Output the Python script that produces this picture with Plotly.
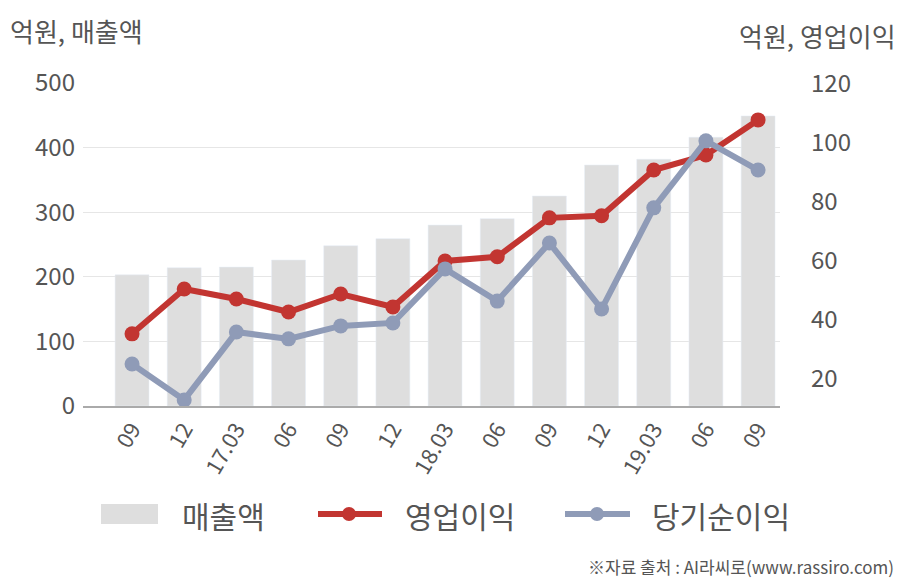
import plotly.graph_objects as go

categories = ["09", "12", "17.03", "06", "09", "12", "18.03", "06", "09", "12", "19.03", "06", "09"]
sales = [203, 214, 215, 226, 248, 259, 280, 290, 325, 373, 382, 416, 449]
op_profit = [35.3, 50.5, 47.1, 42.7, 48.8, 44.4, 60.0, 61.4, 74.6, 75.3, 90.8, 95.9, 107.8]
net_profit = [25.1, 12.9, 35.9, 33.6, 38.0, 39.0, 57.3, 46.4, 66.1, 43.7, 78.0, 100.7, 90.8]
left_ticks = [0, 100, 200, 300, 400, 500]
right_ticks = [20, 40, 60, 80, 100, 120]

BAR_C = "#DEDEDE"
RED = "#C23531"
BLUE = "#8F9BB7"
TXT = "#555555"
FONT = "Noto Sans CJK KR"

x = list(range(len(categories)))

fig = go.Figure()
fig.add_trace(go.Bar(x=x, y=sales, marker_color=BAR_C, width=0.65, name="매출액", yaxis="y"))
fig.add_trace(go.Scatter(x=x, y=op_profit, mode="lines+markers", name="영업이익", yaxis="y2",
                         line=dict(color=RED, width=6), marker=dict(size=15, color=RED)))
fig.add_trace(go.Scatter(x=x, y=net_profit, mode="lines+markers", name="당기순이익", yaxis="y2",
                         line=dict(color=BLUE, width=6), marker=dict(size=15, color=BLUE)))

L, R, T, B = 83, 128, 83, 174
W, H = 908, 580
pw, ph = W - L - R, H - T - B

def px(xp):
    return (xp - L) / pw

def py(yp):
    return (H - B - yp) / ph

shapes = [
    dict(type="rect", xref="paper", yref="paper", x0=px(101), x1=px(158), y0=py(524), y1=py(504),
         fillcolor=BAR_C, line=dict(width=0)),
    dict(type="line", xref="paper", yref="paper", x0=px(318), x1=px(382), y0=py(514), y1=py(514),
         line=dict(color=RED, width=6)),
    dict(type="circle", xref="paper", yref="paper", x0=px(342), x1=px(356), y0=py(521), y1=py(507),
         fillcolor=RED, line=dict(width=0)),
    dict(type="line", xref="paper", yref="paper", x0=px(565), x1=px(630), y0=py(514), y1=py(514),
         line=dict(color=BLUE, width=6)),
    dict(type="circle", xref="paper", yref="paper", x0=px(590), x1=px(604), y0=py(521), y1=py(507),
         fillcolor=BLUE, line=dict(width=0)),
]

annotations = [
    dict(text="억원, 매출액", xref="paper", yref="paper", x=px(8), y=py(30), xanchor="left", yanchor="middle",
         showarrow=False, font=dict(size=26, color=TXT, family=FONT)),
    dict(text="억원, 영업이익", xref="paper", yref="paper", x=px(898), y=py(35), xanchor="right", yanchor="middle",
         showarrow=False, font=dict(size=26, color=TXT, family=FONT)),
    dict(text="매출액", xref="paper", yref="paper", x=px(180), y=py(515), xanchor="left", yanchor="middle",
         showarrow=False, font=dict(size=30, color=TXT, family=FONT)),
    dict(text="영업이익", xref="paper", yref="paper", x=px(403), y=py(515), xanchor="left", yanchor="middle",
         showarrow=False, font=dict(size=30, color=TXT, family=FONT)),
    dict(text="당기순이익", xref="paper", yref="paper", x=px(650), y=py(515), xanchor="left", yanchor="middle",
         showarrow=False, font=dict(size=30, color=TXT, family=FONT)),
    dict(text="※자료 출처 : AI라씨로(www.rassiro.com)", xref="paper", yref="paper", x=px(896), y=py(566),
         xanchor="right", yanchor="middle", showarrow=False, font=dict(size=17, color=TXT, family=FONT)),
]

fig.update_layout(
    width=W, height=H,
    margin=dict(l=L, r=R, t=T, b=B),
    paper_bgcolor="white", plot_bgcolor="white",
    showlegend=False,
    font=dict(family=FONT, color=TXT),
    xaxis=dict(tickmode="array", tickvals=x, ticktext=categories, range=[-0.94, 12.42],
               tickangle=-60, tickfont=dict(size=22, color=TXT), showgrid=False,
               showline=True, linecolor="#AAAAAA", linewidth=1.5, ticks="", zeroline=False),
    yaxis=dict(range=[0, 500], tickvals=left_ticks, tickfont=dict(size=24, color=TXT),
               showgrid=True, gridcolor="#E6E6E6", gridwidth=1, zeroline=False, ticks="",
               showline=False, ticklabelstandoff=7),
    yaxis2=dict(range=[10.85, 120.3], tickvals=right_ticks, overlaying="y", side="right",
                tickfont=dict(size=24, color=TXT), showgrid=False, zeroline=False, ticks="",
                showline=False, ticklabelstandoff=30),
    shapes=shapes,
    annotations=annotations,
    bargap=0.35,
)

fig.write_html("out.html")
